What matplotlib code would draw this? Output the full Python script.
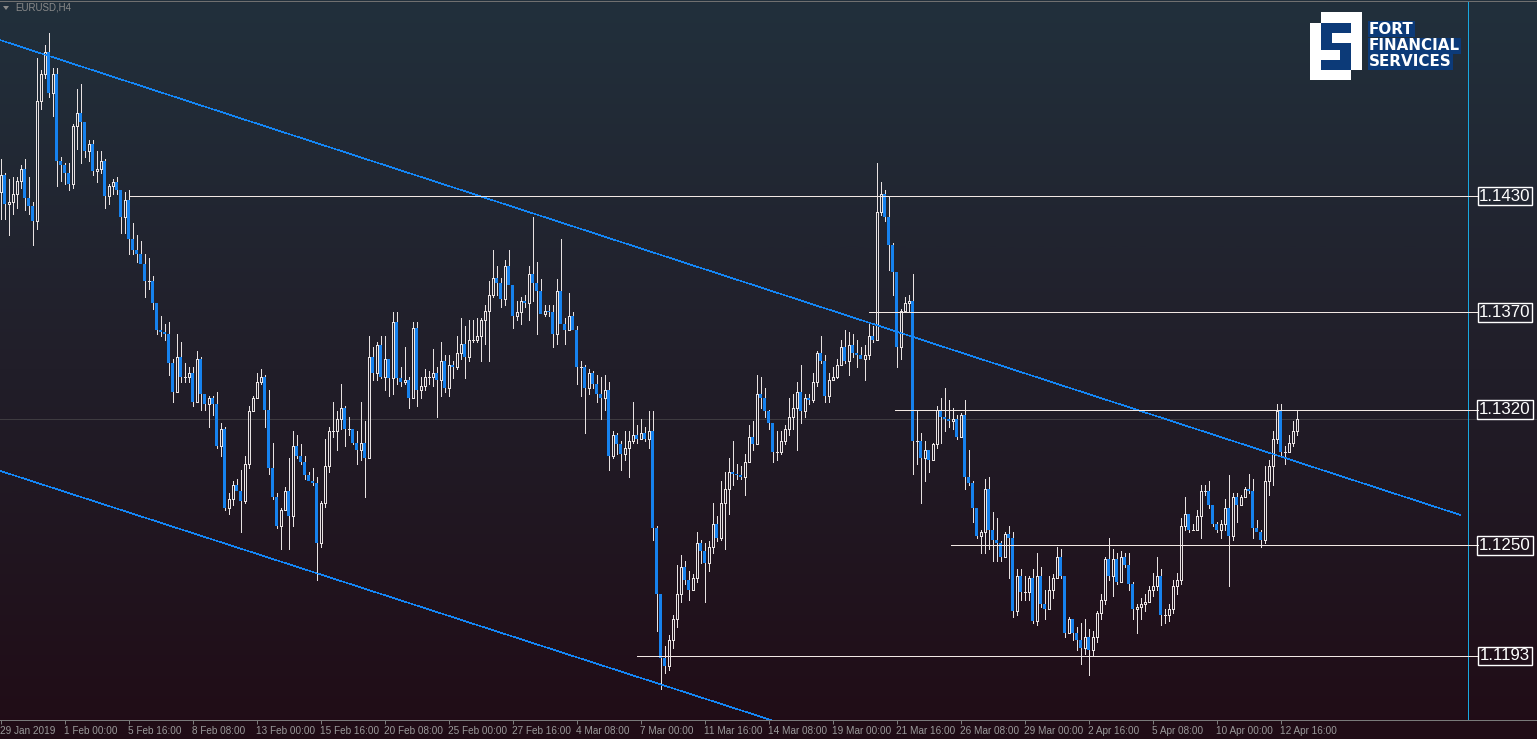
import numpy as np
import matplotlib
matplotlib.use("Agg")
import matplotlib.pyplot as plt
from matplotlib.patches import Rectangle, Polygon
from matplotlib.colors import LinearSegmentedColormap
import matplotlib.transforms as mtransforms

# ---------------- data (EURUSD, H4) ----------------
first_open = 1.1432
close = [
 1.1441,1.1426,1.1427,1.1431,1.1438,1.1444,1.1429,1.1425,1.1417,1.1479,
 1.1493,1.1504,1.1483,1.1493,1.1448,1.1446,1.1442,1.1436,1.1466,1.1473,
 1.1468,1.1453,1.1457,1.1443,1.1444,1.1448,1.1430,1.1435,1.1437,1.1433,
 1.1419,1.1428,1.1408,1.1402,1.1400,1.1395,1.1386,1.1386,1.1375,1.1361,
 1.1360,1.1359,1.1344,1.1329,1.1347,1.1337,1.1337,1.1339,1.1324,1.1346,
 1.1328,1.1323,1.1326,1.1323,1.1301,1.1310,1.1269,1.1274,1.1281,1.1278,
 1.1273,1.1292,1.1319,1.1326,1.1334,1.1337,1.1320,1.1290,1.1275,1.1260,
 1.1268,1.1278,1.1265,1.1301,1.1296,1.1293,1.1286,1.1283,1.1282,1.1251,
 1.1272,1.1291,1.1309,1.1309,1.1315,1.1321,1.1310,1.1310,1.1303,1.1299,
 1.1303,1.1295,1.1347,1.1339,1.1353,1.1337,1.1346,1.1336,1.1365,1.1336,
 1.1334,1.1335,1.1326,1.1362,1.1330,1.1332,1.1337,1.1337,1.1339,1.1335,
 1.1345,1.1331,1.1343,1.1342,1.1349,1.1354,1.1347,1.1356,1.1356,1.1358,
 1.1366,1.1371,1.1379,1.1388,1.1385,1.1377,1.1394,1.1384,1.1368,1.1370,
 1.1376,1.1375,1.1390,1.1385,1.1381,1.1369,1.1371,1.1370,1.1359,1.1381,
 1.1364,1.1361,1.1368,1.1361,1.1342,1.1342,1.1331,1.1339,1.1333,1.1328,
 1.1326,1.1330,1.1296,1.1307,1.1302,1.1297,1.1300,1.1304,1.1307,1.1305,
 1.1308,1.1305,1.1309,1.1259,1.1225,1.1192,1.1188,1.1201,1.1212,1.1225,
 1.1239,1.1232,1.1227,1.1233,1.1251,1.1247,1.1241,1.1249,1.1261,1.1254,
 1.1272,1.1279,1.1288,1.1287,1.1286,1.1285,1.1293,1.1306,1.1302,1.1328,
 1.1326,1.1319,1.1313,1.1298,1.1298,1.1304,1.1310,1.1316,1.1321,1.1329,
 1.1319,1.1326,1.1325,1.1334,1.1349,1.1345,1.1327,1.1335,1.1337,1.1343,
 1.1352,1.1345,1.1353,1.1349,1.1348,1.1346,1.1348,1.1358,1.1356,1.1422,
 1.1431,1.1419,1.1405,1.1391,1.1352,1.1371,1.1375,1.1376,1.1304,1.1304,
 1.1295,1.1299,1.1294,1.1302,1.1320,1.1316,1.1315,1.1314,1.1315,1.1306,
 1.1317,1.1285,1.1282,1.1269,1.1255,1.1257,1.1279,1.1258,1.1253,1.1251,
 1.1244,1.1256,1.1254,1.1216,1.1234,1.1226,1.1226,1.1233,1.1211,1.1234,
 1.1220,1.1217,1.1227,1.1233,1.1244,1.1234,1.1205,1.1212,1.1205,1.1201,
 1.1197,1.1203,1.1196,1.1203,1.1215,1.1222,1.1243,1.1234,1.1243,1.1231,
 1.1244,1.1240,1.1230,1.1217,1.1218,1.1220,1.1221,1.1227,1.1229,1.1234,
 1.1214,1.1214,1.1217,1.1229,1.1232,1.1260,1.1266,1.1258,1.1258,1.1265,
 1.1278,1.1278,1.1271,1.1261,1.1258,1.1261,1.1269,1.1255,1.1275,1.1271,
 1.1275,1.1279,1.1278,1.1259,1.1257,1.1253,1.1283,1.1291,1.1305,1.1319,
 1.1298,1.1298,1.1303,1.1309,1.1315]
high = [
 1.1449,1.1442,1.1439,1.1440,1.1440,1.1446,1.1449,1.1440,1.1427,1.1501,
 1.1495,1.1508,1.1514,1.1496,1.1496,1.1450,1.1447,1.1447,1.1467,1.1485,
 1.1488,1.1468,1.1459,1.1459,1.1453,1.1453,1.1449,1.1436,1.1439,1.1440,
 1.1433,1.1432,1.1433,1.1416,1.1410,1.1407,1.1400,1.1398,1.1389,1.1375,
 1.1368,1.1364,1.1365,1.1346,1.1359,1.1355,1.1344,1.1342,1.1342,1.1350,
 1.1347,1.1328,1.1327,1.1327,1.1329,1.1313,1.1311,1.1277,1.1283,1.1284,
 1.1289,1.1296,1.1322,1.1327,1.1339,1.1341,1.1338,1.1330,1.1303,1.1277,
 1.1269,1.1280,1.1295,1.1309,1.1307,1.1302,1.1296,1.1288,1.1290,1.1285,
 1.1273,1.1305,1.1311,1.1324,1.1319,1.1333,1.1322,1.1316,1.1310,1.1309,
 1.1324,1.1314,1.1358,1.1352,1.1355,1.1358,1.1358,1.1346,1.1370,1.1370,
 1.1342,1.1352,1.1337,1.1365,1.1365,1.1337,1.1341,1.1340,1.1351,1.1342,
 1.1355,1.1348,1.1348,1.1345,1.1358,1.1367,1.1363,1.1366,1.1366,1.1367,
 1.1367,1.1374,1.1386,1.1402,1.1394,1.1388,1.1397,1.1402,1.1384,1.1376,
 1.1378,1.1379,1.1394,1.1419,1.1396,1.1387,1.1374,1.1374,1.1374,1.1387,
 1.1408,1.1367,1.1380,1.1370,1.1363,1.1345,1.1343,1.1341,1.1340,1.1338,
 1.1337,1.1338,1.1334,1.1309,1.1308,1.1304,1.1309,1.1309,1.1324,1.1312,
 1.1315,1.1311,1.1319,1.1319,1.1260,1.1225,1.1198,1.1204,1.1214,1.1240,
 1.1245,1.1242,1.1237,1.1235,1.1257,1.1253,1.1251,1.1252,1.1272,1.1265,
 1.1283,1.1288,1.1295,1.1304,1.1292,1.1291,1.1297,1.1312,1.1314,1.1338,
 1.1337,1.1331,1.1320,1.1313,1.1309,1.1309,1.1312,1.1326,1.1328,1.1334,
 1.1343,1.1328,1.1328,1.1339,1.1350,1.1358,1.1348,1.1339,1.1342,1.1346,
 1.1356,1.1361,1.1360,1.1359,1.1356,1.1352,1.1353,1.1365,1.1363,1.1447,
 1.1437,1.1433,1.1430,1.1406,1.1391,1.1372,1.1378,1.1379,1.1390,1.1319,
 1.1308,1.1304,1.1298,1.1303,1.1322,1.1326,1.1331,1.1325,1.1321,1.1317,
 1.1318,1.1325,1.1299,1.1283,1.1269,1.1258,1.1284,1.1285,1.1267,1.1264,
 1.1252,1.1257,1.1260,1.1257,1.1238,1.1238,1.1234,1.1234,1.1238,1.1246,
 1.1239,1.1227,1.1234,1.1235,1.1249,1.1248,1.1234,1.1213,1.1211,1.1208,
 1.1210,1.1212,1.1207,1.1206,1.1216,1.1225,1.1244,1.1254,1.1248,1.1246,
 1.1247,1.1246,1.1246,1.1231,1.1220,1.1223,1.1225,1.1229,1.1236,1.1244,
 1.1238,1.1217,1.1220,1.1232,1.1236,1.1264,1.1275,1.1266,1.1261,1.1268,
 1.1281,1.1281,1.1283,1.1271,1.1262,1.1263,1.1274,1.1286,1.1277,1.1277,
 1.1276,1.1280,1.1287,1.1284,1.1263,1.1258,1.1291,1.1294,1.1309,1.1323,
 1.1323,1.1301,1.1307,1.1314,1.1320]
low = [
 1.1418,1.1418,1.1410,1.1421,1.1424,1.1434,1.1423,1.1421,1.1405,1.1413,
 1.1475,1.1491,1.1481,1.1471,1.1435,1.1438,1.1436,1.1433,1.1434,1.1454,
 1.1447,1.1450,1.1448,1.1441,1.1437,1.1442,1.1424,1.1426,1.1431,1.1431,
 1.1411,1.1411,1.1400,1.1400,1.1396,1.1395,1.1378,1.1382,1.1372,1.1359,
 1.1358,1.1356,1.1338,1.1324,1.1330,1.1334,1.1334,1.1334,1.1322,1.1324,
 1.1320,1.1320,1.1311,1.1317,1.1300,1.1296,1.1268,1.1266,1.1271,1.1278,
 1.1257,1.1272,1.1290,1.1319,1.1326,1.1333,1.1311,1.1287,1.1274,1.1259,
 1.1248,1.1268,1.1248,1.1260,1.1295,1.1292,1.1284,1.1283,1.1281,1.1232,
 1.1249,1.1270,1.1288,1.1306,1.1299,1.1310,1.1301,1.1307,1.1302,1.1292,
 1.1294,1.1275,1.1295,1.1335,1.1335,1.1336,1.1330,1.1327,1.1328,1.1333,
 1.1332,1.1333,1.1321,1.1327,1.1322,1.1326,1.1330,1.1333,1.1332,1.1316,
 1.1327,1.1329,1.1327,1.1336,1.1341,1.1346,1.1336,1.1345,1.1355,1.1355,
 1.1345,1.1354,1.1345,1.1378,1.1379,1.1373,1.1374,1.1384,1.1362,1.1366,
 1.1364,1.1373,1.1366,1.1376,1.1359,1.1369,1.1368,1.1368,1.1352,1.1354,
 1.1364,1.1354,1.1366,1.1361,1.1333,1.1327,1.1308,1.1328,1.1331,1.1324,
 1.1315,1.1320,1.1289,1.1295,1.1297,1.1289,1.1294,1.1285,1.1303,1.1303,
 1.1305,1.1304,1.1300,1.1253,1.1206,1.1176,1.1184,1.1186,1.1197,1.1208,
 1.1221,1.1230,1.1222,1.1228,1.1231,1.1241,1.1221,1.1237,1.1246,1.1252,
 1.1253,1.1248,1.1266,1.1281,1.1284,1.1284,1.1276,1.1294,1.1299,1.1302,
 1.1321,1.1316,1.1310,1.1293,1.1294,1.1297,1.1302,1.1307,1.1310,1.1299,
 1.1313,1.1316,1.1323,1.1324,1.1332,1.1344,1.1324,1.1324,1.1335,1.1336,
 1.1343,1.1344,1.1338,1.1347,1.1342,1.1346,1.1335,1.1346,1.1355,1.1356,
 1.1420,1.1417,1.1392,1.1379,1.1342,1.1346,1.1370,1.1370,1.1287,1.1292,
 1.1272,1.1283,1.1288,1.1294,1.1300,1.1303,1.1309,1.1311,1.1310,1.1305,
 1.1306,1.1279,1.1281,1.1262,1.1254,1.1246,1.1246,1.1248,1.1242,1.1242,
 1.1242,1.1244,1.1233,1.1213,1.1214,1.1222,1.1222,1.1222,1.1210,1.1209,
 1.1218,1.1212,1.1225,1.1223,1.1233,1.1233,1.1203,1.1206,1.1201,1.1196,
 1.1189,1.1194,1.1183,1.1193,1.1200,1.1212,1.1220,1.1232,1.1224,1.1230,
 1.1231,1.1239,1.1227,1.1212,1.1205,1.1212,1.1216,1.1221,1.1224,1.1227,
 1.1209,1.1210,1.1211,1.1215,1.1225,1.1230,1.1258,1.1257,1.1258,1.1258,
 1.1254,1.1276,1.1269,1.1260,1.1257,1.1254,1.1258,1.1229,1.1253,1.1262,
 1.1271,1.1275,1.1277,1.1254,1.1257,1.1249,1.1251,1.1276,1.1281,1.1303,
 1.1296,1.1292,1.1298,1.1301,1.1307]

tick_labels = ["29 Jan 2019", "1 Feb 00:00", "5 Feb 16:00", "8 Feb 08:00",
               "13 Feb 00:00", "15 Feb 16:00", "20 Feb 08:00", "25 Feb 00:00",
               "27 Feb 16:00", "4 Mar 08:00", "7 Mar 00:00", "11 Mar 16:00",
               "14 Mar 08:00", "19 Mar 00:00", "21 Mar 16:00", "26 Mar 08:00",
               "29 Mar 00:00", "2 Apr 16:00", "5 Apr 08:00", "10 Apr 00:00",
               "12 Apr 16:00"]
bars_per_tick = 16

# horizontal support / resistance levels and the bar where each one starts
levels = [1.1430, 1.1370, 1.1320, 1.1250, 1.1193]
level_start_bar = [32, 217, 223.5, 237.5, 159]
level_end_bar = 369.4

# channel lines (bar index, price)
upper_trend = ([-0.125, 364.9], [1.15104, 1.12657])
lower_trend = ([-0.125, 193.5], [1.12884, 1.11594])
separator_bar = 366.9

# ---------------- style ----------------
W, H = 1537, 739
PX = 72.0 / 100.0           # one pixel in points
bg_top, bg_bot = "#22303C", "#200C16"
bull_c = "#E8E2E2"
bear_c = "#1682EE"
trend_c = "#1486F5"
level_c = "#F2E8E4"
sep_c = "#18A8E0"

fig = plt.figure(figsize=(W / 100, H / 100), dpi=100)

# gradient background over the whole figure
bg = fig.add_axes([0, 0, 1, 1], zorder=-10)
cmap = LinearSegmentedColormap.from_list("bg", [bg_top, bg_bot])
bg.imshow(np.linspace(0, 1, 512)[:, None], aspect="auto", cmap=cmap,
          extent=[0, 1, 0, 1], origin="upper")
bg.set_axis_off()

ax = fig.add_axes([0, 19 / H, 1, 718 / H])
ax.patch.set_alpha(0)
ax.set_xlim(-0.125, 384.125)
ax.set_ylim(1.11600, 1.15300)

close = np.array(close)
high = np.array(high)
low = np.array(low)
n = len(close)
idx = np.arange(n)
opens = np.concatenate([[first_open], close[:-1]])
top = np.maximum(opens, close)
bot = np.minimum(opens, close)
hi = np.maximum(high, top)
lo = np.minimum(low, bot)
bull = close >= opens

# wicks (drawn outside bodies)
ax.vlines(idx, top, hi, color=bull_c, lw=PX, zorder=3, antialiased=False)
ax.vlines(idx, lo, bot, color=bull_c, lw=PX, zorder=3, antialiased=False)

# bearish bodies: filled blue
bh = np.maximum(top - bot, 0.00004)
ax.bar(idx[~bull], bh[~bull], bottom=bot[~bull], width=0.75, color=bear_c,
       linewidth=0, zorder=4, antialiased=False)
# bullish bodies: hollow
ax.bar(idx[bull], (top - bot)[bull], bottom=bot[bull], width=0.5,
       facecolor="none", edgecolor=bull_c, linewidth=PX, zorder=4,
       antialiased=False)

# last price line
ax.axhline(close[-1], color="#3E3B40", lw=PX, zorder=1, antialiased=False)

# channel lines (thin, aliased like the terminal)
ax.plot(*upper_trend, color=trend_c, lw=0.4, zorder=5, antialiased=False)
ax.plot(*lower_trend, color=trend_c, lw=0.4, zorder=5, antialiased=False)

# separator line
ax.axvline(separator_bar, color=sep_c, lw=PX, zorder=5, antialiased=False)

# levels with labels
blend = mtransforms.blended_transform_factory(ax.transAxes, ax.transData)
for lvl, st in zip(levels, level_start_bar):
    ax.plot([st, level_end_bar], [lvl, lvl], color=level_c, lw=PX, zorder=6,
            antialiased=False)
    ax.text(1505 / W, lvl, f"{lvl:.4f}", transform=blend, ha="center",
            va="center", color="white", fontsize=12.2,
            family="Liberation Sans", zorder=7,
            bbox=dict(boxstyle="square,pad=0.1", fc="none", ec="white",
                      lw=1.0))

# axes cosmetics
for s in ["top", "left", "right"]:
    ax.spines[s].set_visible(False)
ax.spines["bottom"].set_color("#7A7A7A")
ax.spines["bottom"].set_linewidth(PX)
ax.set_yticks([])
ticks = np.arange(0, bars_per_tick * len(tick_labels), bars_per_tick)
ax.set_xticks(ticks)
ax.set_xticklabels(tick_labels, ha="left", fontsize=7.2, color="#9A9A9A",
                   family="Liberation Sans")
ax.tick_params(axis="x", length=3, width=PX, color="#7A7A7A", pad=1.5,
               direction="out")

# top border
fig.add_artist(plt.Line2D([0, 1], [1 - 0.5 / H, 1 - 0.5 / H],
                          transform=fig.transFigure, color="#707070", lw=PX))

# symbol caption
def fx(x):
    return x / W

def fy(y):
    return 1 - y / H

fig.add_artist(Polygon([(fx(3), fy(6)), (fx(9), fy(6)), (fx(6), fy(10))],
                       closed=True, transform=fig.transFigure,
                       color="#8A8A8A", lw=0))
fig.text(fx(15), fy(8), "EURUSD,H4", color="#8A8A8A", fontsize=7,
         family="Liberation Sans", ha="left", va="center")

# logo
def frect(x0, y0, x1, y1, c):
    fig.add_artist(Rectangle((fx(x0), fy(y1)), fx(x1) - fx(x0),
                             fy(y0) - fy(y1), transform=fig.transFigure,
                             color=c, lw=0, zorder=20))

frect(1321, 12, 1362, 70, "white")
frect(1310, 23, 1351, 80, "white")
frect(1321, 23, 1351, 70, "#0C3A78")
frect(1332, 33, 1351, 43, "white")
frect(1321, 50, 1340, 60, "white")
for txt, yy in [("FORT", 29), ("FINANCIAL", 46), ("SERVICES", 62)]:
    fig.text(fx(1369), fy(yy), txt, color="white", fontsize=10.9,
             fontweight="bold", family="DejaVu Sans", ha="left", va="center",
             zorder=21,
             bbox=dict(boxstyle="square,pad=0.06", fc="#0C3A78", ec="none"))

fig.savefig("out.png", dpi=100)
